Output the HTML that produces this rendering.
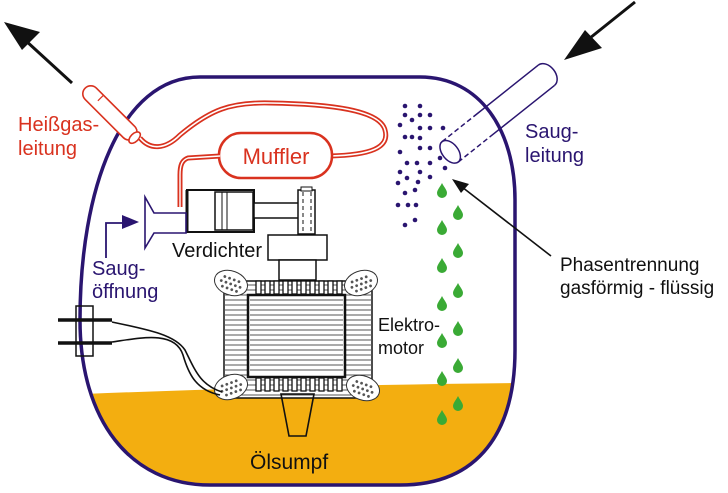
<!DOCTYPE html>
<html><head><meta charset="utf-8"><style>
html,body{margin:0;padding:0;background:#fff;}
svg{display:block;}
text{font-family:"Liberation Sans",sans-serif;}
</style></head><body>
<svg width="728" height="493" viewBox="0 0 728 493" xmlns="http://www.w3.org/2000/svg">
<defs>
<clipPath id="hc"><path d="M200,77 L420,77 C480,77 515,130 515,200 L515,350 C515,430 480,485 400,485 L210,485 C130,485 80,420 80,320 C80,190 120,77 200,77 Z"/></clipPath>
<g id="drop"><path d="M0,-7 C2,-3 5,0 5,3 A5,5 0 0 1 -5,3 C-5,0 -2,-3 0,-7 Z" fill="#3aaa35"/></g>
<g id="coil"><ellipse cx="0" cy="0" rx="17" ry="12" fill="#fff" stroke="#333" stroke-width="1"/>
<g fill="#555"><circle cx="-8" cy="-4" r="1.4"/><circle cx="-3" cy="-4" r="1.4"/><circle cx="2" cy="-4" r="1.4"/><circle cx="7" cy="-4" r="1.4"/><circle cx="-10" cy="1" r="1.4"/><circle cx="-5" cy="1" r="1.4"/><circle cx="0" cy="1" r="1.4"/><circle cx="5" cy="1" r="1.4"/><circle cx="10" cy="1" r="1.4"/><circle cx="-7" cy="6" r="1.4"/><circle cx="-2" cy="6" r="1.4"/><circle cx="3" cy="6" r="1.4"/><circle cx="8" cy="6" r="1.4"/></g></g>
</defs>
<g clip-path="url(#hc)"><path d="M60,395 Q300,385 520,383 L520,500 L60,500 Z" fill="#f3ae10"/></g>
<path d="M200,77 L420,77 C480,77 515,130 515,200 L515,350 C515,430 480,485 400,485 L210,485 C130,485 80,420 80,320 C80,190 120,77 200,77 Z" fill="none" stroke="#2a1570" stroke-width="3.5"/>
<line x1="72" y1="83" x2="25" y2="40" stroke="#111" stroke-width="3"/>
<polygon points="4,22 40,32 22,50" fill="#111"/>
<g transform="translate(112,115) rotate(45)">
<rect x="-38" y="-8" width="70" height="16" rx="8" fill="#fff" stroke="#d9321f" stroke-width="1.6"/>
<line x1="-20" y1="-8" x2="-20" y2="0" stroke="#d9321f" stroke-width="1.2"/>
<ellipse cx="32" cy="0" rx="4" ry="7" fill="#fff" stroke="#d9321f" stroke-width="1.6"/>
</g>
<path d="M140,138 C150,150 165,150 180,135 C210,110 230,102 270,103 C330,104 380,110 385,130 C390,148 370,155 330,156" fill="none" stroke="#d9321f" stroke-width="5"/>
<path d="M140,138 C150,150 165,150 180,135 C210,110 230,102 270,103 C330,104 380,110 385,130 C390,148 370,155 330,156" fill="none" stroke="#fff" stroke-width="1.6"/>
<rect x="219" y="133" width="113" height="45" rx="22" fill="#fff" stroke="#d9321f" stroke-width="2.5"/>
<text x="276" y="164" font-size="22" fill="#d9321f" text-anchor="middle">Muffler</text>
<path d="M220,156 L188,158 C182,160 180,165 180,175 L180,207" fill="none" stroke="#d9321f" stroke-width="5"/>
<path d="M220,156 L188,158 C182,160 180,165 180,175 L180,207" fill="none" stroke="#fff" stroke-width="1.4"/>
<rect x="187" y="190" width="67" height="42" fill="#fff" stroke="#111" stroke-width="2"/>
<line x1="187" y1="190" x2="187" y2="232" stroke="#111" stroke-width="3"/>
<rect x="215" y="192" width="38" height="38" fill="#fff" stroke="#111" stroke-width="1.5"/>
<line x1="222" y1="192" x2="222" y2="230" stroke="#111"/><line x1="227" y1="192" x2="227" y2="230" stroke="#111"/>
<rect x="254" y="203" width="45" height="15" fill="#fff" stroke="#111" stroke-width="1.5"/>
<rect x="298" y="190" width="17" height="44" fill="#fff" stroke="#111" stroke-width="1.5"/>
<rect x="301" y="187" width="11" height="4" fill="#fff" stroke="#111"/>
<line x1="303" y1="192" x2="303" y2="232" stroke="#111" stroke-dasharray="4,3"/><line x1="311" y1="192" x2="311" y2="232" stroke="#111" stroke-dasharray="4,3"/>
<path d="M145,197 L154,213 L186,213 L186,233 L154,233 L145,248 Z" fill="#fff" stroke="#2a1570" stroke-width="1.6"/>
<path d="M106,258 L106,223 L124,223" fill="none" stroke="#2a1570" stroke-width="1.8"/>
<polygon points="139,222 122,215 122,229" fill="#2a1570"/>
<text x="172" y="257" font-size="20" fill="#111">Verdichter</text>
<text x="92" y="275" font-size="20" fill="#2a1570">Saug-</text>
<text x="92" y="298" font-size="20" fill="#2a1570">öffnung</text>
<rect x="268" y="235" width="59" height="25" fill="#fff" stroke="#111" stroke-width="1.5"/>
<rect x="279" y="260" width="37" height="20" fill="#fff" stroke="#111" stroke-width="1.5"/>
<rect x="224" y="281" width="148" height="117" fill="#fff" stroke="#111" stroke-width="1.5"/>
<g stroke="#555" stroke-width="1">
<path d="M224,285H372M224,290H372M224,295H372M224,300H372M224,305H372M224,310H372M224,315H372M224,320H372M224,325H372M224,330H372M224,335H372M224,340H372M224,345H372M224,350H372M224,355H372M224,360H372M224,365H372M224,370H372M224,375H372M224,380H372M224,385H372M224,390H372M224,395H372"/>
</g>
<rect x="248" y="295" width="97" height="82" fill="#fff" stroke="#111" stroke-width="2.5"/>
<g stroke="#555"><path d="M250,300H343M250,305H343M250,310H343M250,315H343M250,320H343M250,325H343M250,330H343M250,335H343M250,340H343M250,345H343M250,350H343M250,355H343M250,360H343M250,365H343M250,370H343"/></g>
<g fill="#fff" stroke="#111" stroke-width="1.3">
<rect x="256" y="281" width="5" height="13"/><rect x="265" y="281" width="5" height="13"/><rect x="274" y="281" width="5" height="13"/><rect x="283" y="281" width="5" height="13"/><rect x="292" y="281" width="5" height="13"/><rect x="301" y="281" width="5" height="13"/><rect x="310" y="281" width="5" height="13"/><rect x="319" y="281" width="5" height="13"/><rect x="328" y="281" width="5" height="13"/><rect x="337" y="281" width="5" height="13"/>
<rect x="256" y="378" width="5" height="13"/><rect x="265" y="378" width="5" height="13"/><rect x="274" y="378" width="5" height="13"/><rect x="283" y="378" width="5" height="13"/><rect x="292" y="378" width="5" height="13"/><rect x="301" y="378" width="5" height="13"/><rect x="310" y="378" width="5" height="13"/><rect x="319" y="378" width="5" height="13"/><rect x="328" y="378" width="5" height="13"/><rect x="337" y="378" width="5" height="13"/>
</g>
<use href="#coil" transform="translate(231,283) rotate(20)"/>
<use href="#coil" transform="translate(361,283) rotate(-20)"/>
<use href="#coil" transform="translate(231,387) rotate(-20)"/>
<use href="#coil" transform="translate(363,388) rotate(20)"/>
<path d="M281,394 L314,394 L306,436 L289,436 Z" fill="none" stroke="#111" stroke-width="1.6"/>
<text x="250" y="469" font-size="21" fill="#111">Ölsumpf</text>
<text x="378" y="331" font-size="18" fill="#111">Elektro-</text>
<text x="378" y="354" font-size="18" fill="#111">motor</text>
<path d="M112,322 C150,330 175,335 185,350 C195,370 200,385 222,392" fill="none" stroke="#111" stroke-width="1.6"/>
<path d="M112,342 C140,338 175,330 183,355 C188,372 195,390 220,395" fill="none" stroke="#111" stroke-width="1.6"/>
<line x1="58" y1="320" x2="112" y2="320" stroke="#111" stroke-width="3.5"/>
<line x1="58" y1="343" x2="112" y2="343" stroke="#111" stroke-width="3.5"/>
<rect x="76" y="306" width="17" height="50" fill="none" stroke="#111" stroke-width="1.5"/>
<g transform="translate(548,74) rotate(-38.5)">
<path d="M-85,-13 L-2,-13 M-85,13 L-2,13" stroke="#2a1570" stroke-width="1.5" fill="none"/>
<path d="M-2,-13 A9,13 0 0 1 -2,13" stroke="#2a1570" stroke-width="1.5" fill="none"/>
<path d="M-125,-13 L-85,-13 M-125,13 L-85,13" stroke="#2a1570" stroke-width="1.5" stroke-dasharray="5,3"/>
<ellipse cx="-125" cy="0" rx="8" ry="13" fill="#fff" stroke="#2a1570" stroke-width="1.5"/>
</g>
<text x="525" y="138" font-size="20" fill="#2a1570">Saug-</text>
<text x="525" y="162" font-size="20" fill="#2a1570">leitung</text>
<line x1="635" y1="2" x2="585" y2="42" stroke="#111" stroke-width="3"/>
<polygon points="564,60 585,30 602,48" fill="#111"/>
<g fill="#2a1570">
<circle cx="405" cy="106" r="2.3"/><circle cx="420" cy="106" r="2.3"/><circle cx="405" cy="115" r="2.3"/><circle cx="412" cy="120" r="2.3"/><circle cx="420" cy="115" r="2.3"/><circle cx="430" cy="115" r="2.3"/><circle cx="400" cy="125" r="2.3"/><circle cx="420" cy="128" r="2.3"/><circle cx="430" cy="128" r="2.3"/><circle cx="443" cy="128" r="2.3"/><circle cx="405" cy="137" r="2.3"/><circle cx="412" cy="137" r="2.3"/><circle cx="420" cy="138" r="2.3"/><circle cx="400" cy="152" r="2.3"/><circle cx="420" cy="148" r="2.3"/><circle cx="430" cy="148" r="2.3"/><circle cx="407" cy="163" r="2.3"/><circle cx="417" cy="163" r="2.3"/><circle cx="400" cy="172" r="2.3"/><circle cx="420" cy="172" r="2.3"/><circle cx="430" cy="163" r="2.3"/><circle cx="440" cy="158" r="2.3"/><circle cx="445" cy="168" r="2.3"/><circle cx="398" cy="183" r="2.3"/><circle cx="407" cy="178" r="2.3"/><circle cx="418" cy="182" r="2.3"/><circle cx="430" cy="177" r="2.3"/><circle cx="405" cy="193" r="2.3"/><circle cx="415" cy="190" r="2.3"/><circle cx="398" cy="205" r="2.3"/><circle cx="408" cy="205" r="2.3"/><circle cx="416" cy="205" r="2.3"/><circle cx="405" cy="225" r="2.3"/><circle cx="415" cy="220" r="2.3"/>
</g>
<use href="#drop" x="442" y="190"/><use href="#drop" x="442" y="227"/><use href="#drop" x="442" y="265"/><use href="#drop" x="442" y="303"/><use href="#drop" x="442" y="340"/><use href="#drop" x="442" y="378"/><use href="#drop" x="442" y="417"/>
<use href="#drop" x="458" y="212"/><use href="#drop" x="458" y="250"/><use href="#drop" x="458" y="290"/><use href="#drop" x="458" y="328"/><use href="#drop" x="458" y="365"/><use href="#drop" x="458" y="403"/>
<line x1="551" y1="256" x2="462" y2="187" stroke="#111" stroke-width="1.6"/>
<polygon points="452,179 469,184 461,193" fill="#111"/>
<text x="560" y="271" font-size="19" fill="#111">Phasentrennung</text>
<text x="560" y="294" font-size="19" fill="#111">gasförmig - flüssig</text>
<text x="18" y="131" font-size="20" fill="#d9321f">Heißgas-</text>
<text x="18" y="155" font-size="20" fill="#d9321f">leitung</text>
</svg>
</body></html>
